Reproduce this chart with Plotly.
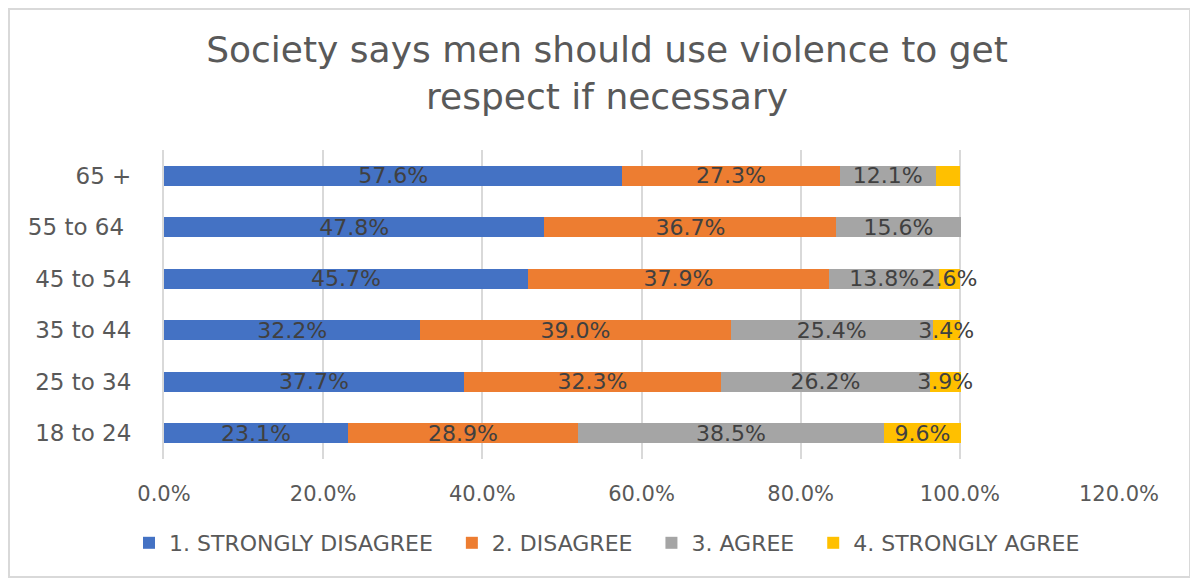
import plotly.graph_objects as go

categories = ["18 to 24", "25 to 34", "35 to 44", "45 to 54", "55 to 64 ", "65 +"]
strongly_disagree = [23.1, 37.7, 32.2, 45.7, 47.8, 57.6]
disagree = [28.9, 32.3, 39.0, 37.9, 36.7, 27.3]
agree = [38.5, 26.2, 25.4, 13.8, 15.6, 12.1]
strongly_agree = [9.6, 3.9, 3.4, 2.6, 0.0, 3.0]
show_label_sa = [True, True, True, True, False, False]

series = [
    ("1. STRONGLY DISAGREE", strongly_disagree, "#4472C4", None),
    ("2. DISAGREE", disagree, "#ED7D31", None),
    ("3. AGREE", agree, "#A5A5A5", None),
    ("4. STRONGLY AGREE", strongly_agree, "#FFC000", show_label_sa),
]

FONT = "DejaVu Sans"
# page body has an 8px margin, so the figure is drawn 8px in from the top-left
W, H = 1190, 573
L, T = 156, 142
PW, PH = 955, 309
R, B = W - L - PW, H - T - PH

fig = go.Figure()
for k, (name, vals, color, show) in enumerate(series):
    texts = []
    for i, v in enumerate(vals):
        if show is not None and not show[i]:
            texts.append("")
        else:
            texts.append(f"{v:.1f}%")
    pad = "\u00a0\u00a0" if k < len(series) - 1 else ""
    fig.add_trace(go.Bar(
        y=categories, x=[v / 100 for v in vals], name=name + pad, orientation="h",
        marker=dict(color=color, line=dict(width=0)),
        text=texts, textposition="inside", insidetextanchor="middle",
        constraintext="none", cliponaxis=False,
        textfont=dict(family=FONT, size=22, color="#404040"),
        hoverinfo="x+y",
    ))

fig.update_layout(
    barmode="stack",
    bargap=0.61,
    width=W, height=H,
    margin=dict(l=L, r=R, t=T, b=B, autoexpand=False),
    paper_bgcolor="white", plot_bgcolor="white",
    title=dict(
        text="Society says men should use violence to get<br>respect if necessary",
        x=(607 - 164) / PW, xanchor="center", xref="paper", yref="container",
        y=1 - 54 / H, yanchor="top",
        font=dict(family=FONT, size=36, color="#595959"),
    ),
    xaxis=dict(
        range=[0, 1.2], dtick=0.2, tickformat=".1%",
        showgrid=True, gridcolor="#D9D9D9", gridwidth=2,
        zeroline=False, showline=False, automargin=False,
        tickfont=dict(family=FONT, size=21, color="#595959"),
        ticks="", ticklabelstandoff=20,
    ),
    yaxis=dict(
        showline=True, linecolor="#D9D9D9", linewidth=2, automargin=False,
        tickfont=dict(family=FONT, size=23, color="#595959"),
        ticks="", ticklabelstandoff=26,
    ),
    legend=dict(
        orientation="h", x=(607 - 164) / PW, xanchor="center",
        y=-(535 - 451) / PH, yanchor="middle",
        font=dict(family=FONT, size=22, color="#595959"),
        traceorder="normal", itemwidth=30,
    ),
    shapes=[dict(type="rect", xref="paper", yref="paper",
                 x0=(1 - L) / PW, x1=(1182 - L) / PW,
                 y0=(451 - 569) / PH, y1=(451 - 1) / PH,
                 line=dict(color="#D9D9D9", width=2), fillcolor="rgba(0,0,0,0)")],
)

fig.write_html("out.html")
